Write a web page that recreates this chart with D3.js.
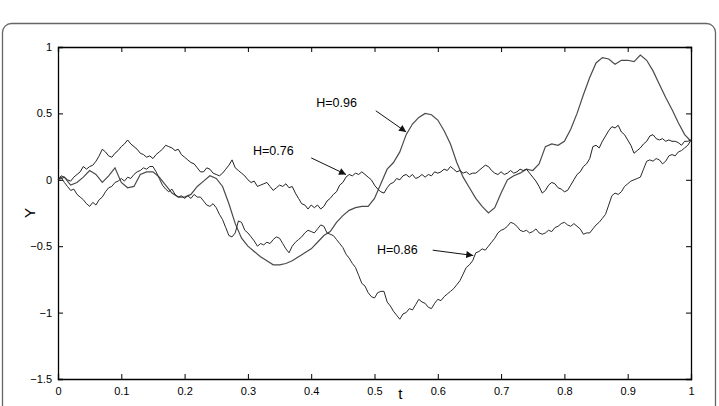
<!DOCTYPE html>
<html>
<head>
<meta charset="utf-8">
<title>fBm paths</title>
<script src="https://d3js.org/d3.v7.min.js"></script>
<style>
  body { margin: 0; background: #fff; }
  svg text { font-family: "Liberation Sans", Arial, Helvetica, sans-serif; }
</style>
</head>
<body>
<div id="chart"></div>
<script>
// sample spacing along t for each series
var stepSmooth = 0.01;   // H=0.96
var stepRough = 0.005;   // H=0.76, H=0.86

// H = 0.96, t = 0 .. 1 step 0.01
var h96 = [
  0.00, 0.02, -0.04, -0.02, 0.02, 0.07, 0.04, -0.02, 0.03, 0.09,
  -0.02, -0.06, -0.05, 0.04, 0.06, 0.06, 0.02, -0.04, -0.10, -0.13,
  -0.13, -0.11, -0.05, -0.01, 0.03, 0.01, -0.05, -0.18, -0.33, -0.44,
  -0.50, -0.54, -0.58, -0.61, -0.64, -0.64, -0.63, -0.61, -0.58, -0.55,
  -0.52, -0.47, -0.42, -0.39, -0.32, -0.27, -0.23, -0.21, -0.20, -0.20,
  -0.14, -0.03, 0.08, 0.13, 0.21, 0.34, 0.42, 0.47, 0.50, 0.49,
  0.45, 0.37, 0.27, 0.13, 0.02, -0.06, -0.14, -0.20, -0.25, -0.21,
  -0.10, 0.00, 0.03, 0.05, 0.08, 0.07, 0.12, 0.25, 0.27, 0.26,
  0.29, 0.38, 0.50, 0.64, 0.77, 0.88, 0.92, 0.91, 0.87, 0.90,
  0.90, 0.89, 0.94, 0.90, 0.82, 0.72, 0.62, 0.53, 0.43, 0.34,
  0.29
];

// H = 0.76, t = 0 .. 1 step 0.005
var h76 = [
  0.00, 0.03, 0.02, 0.00, -0.01, 0.02, 0.04, 0.06, 0.10, 0.08,
  0.10, 0.11, 0.14, 0.18, 0.23, 0.21, 0.18, 0.17, 0.20, 0.22,
  0.25, 0.27, 0.30, 0.27, 0.25, 0.23, 0.20, 0.19, 0.17, 0.18,
  0.16, 0.19, 0.21, 0.23, 0.26, 0.25, 0.24, 0.22, 0.23, 0.19,
  0.17, 0.15, 0.13, 0.12, 0.09, 0.06, 0.06, 0.09, 0.08, 0.05,
  0.04, 0.03, 0.05, 0.08, 0.11, 0.15, 0.09, 0.07, 0.05, 0.03,
  0.00, -0.02, -0.01, -0.05, -0.04, -0.03, -0.02, -0.05, -0.08, -0.06,
  -0.04, -0.05, -0.03, -0.06, -0.05, -0.10, -0.14, -0.18, -0.19, -0.22,
  -0.19, -0.21, -0.19, -0.22, -0.20, -0.16, -0.14, -0.11, -0.09, -0.04,
  -0.02, 0.02, 0.04, 0.03, 0.05, 0.04, 0.06, 0.04, 0.02, 0.00,
  -0.04, -0.07, -0.09, -0.10, -0.06, -0.03, -0.02, 0.01, 0.00, 0.03,
  0.04, 0.02, 0.04, 0.01, 0.02, 0.04, 0.02, 0.04, 0.03, 0.06,
  0.05, 0.06, 0.08, 0.07, 0.10, 0.08, 0.06, 0.07, 0.05, 0.06,
  0.04, 0.05, 0.05, 0.07, 0.09, 0.11, 0.10, 0.07, 0.05, 0.04,
  0.06, 0.04, 0.05, 0.07, 0.05, 0.06, 0.08, 0.07, 0.08, 0.05,
  0.02, -0.01, -0.05, -0.10, -0.08, -0.04, -0.02, -0.03, -0.06, -0.07,
  -0.09, -0.08, -0.04, 0.00, 0.04, 0.06, 0.10, 0.12, 0.16, 0.25,
  0.26, 0.24, 0.29, 0.33, 0.37, 0.40, 0.39, 0.41, 0.36, 0.34,
  0.30, 0.26, 0.20, 0.22, 0.24, 0.27, 0.29, 0.33, 0.34, 0.31,
  0.30, 0.31, 0.29, 0.30, 0.29, 0.29, 0.28, 0.26, 0.29, 0.29,
  0.30
];

// H = 0.86, t = 0 .. 1 step 0.005
var h86 = [
  0.00, 0.02, -0.02, -0.05, -0.08, -0.07, -0.11, -0.13, -0.15, -0.18,
  -0.20, -0.17, -0.19, -0.15, -0.13, -0.09, -0.06, -0.05, -0.02, -0.01,
  0.01, -0.01, 0.02, 0.01, 0.04, 0.06, 0.07, 0.09, 0.08, 0.10,
  0.10, 0.06, 0.01, -0.04, -0.07, -0.09, -0.07, -0.11, -0.13, -0.12,
  -0.14, -0.12, -0.14, -0.11, -0.13, -0.13, -0.16, -0.19, -0.20, -0.18,
  -0.21, -0.26, -0.30, -0.36, -0.42, -0.43, -0.40, -0.31, -0.32, -0.38,
  -0.40, -0.43, -0.46, -0.50, -0.48, -0.49, -0.47, -0.48, -0.45, -0.43,
  -0.44, -0.48, -0.52, -0.55, -0.50, -0.47, -0.45, -0.43, -0.40, -0.38,
  -0.39, -0.40, -0.37, -0.34, -0.35, -0.40, -0.41, -0.42, -0.45, -0.48,
  -0.51, -0.56, -0.59, -0.63, -0.66, -0.72, -0.78, -0.80, -0.85, -0.88,
  -0.89, -0.85, -0.84, -0.84, -0.92, -0.95, -0.99, -1.02, -1.05, -1.01,
  -1.00, -0.97, -0.98, -0.94, -0.90, -0.92, -0.93, -0.96, -0.97, -0.93,
  -0.90, -0.91, -0.88, -0.86, -0.84, -0.82, -0.79, -0.76, -0.71, -0.66,
  -0.64, -0.61, -0.55, -0.54, -0.52, -0.53, -0.50, -0.47, -0.44, -0.40,
  -0.38, -0.37, -0.35, -0.32, -0.33, -0.35, -0.38, -0.39, -0.38, -0.40,
  -0.39, -0.37, -0.40, -0.41, -0.40, -0.38, -0.39, -0.36, -0.35, -0.33,
  -0.32, -0.34, -0.35, -0.33, -0.35, -0.37, -0.41, -0.40, -0.40, -0.37,
  -0.34, -0.32, -0.29, -0.26, -0.19, -0.12, -0.10, -0.11, -0.09, -0.05,
  -0.03, -0.01, 0.00, 0.01, 0.02, 0.08, 0.14, 0.15, 0.14, 0.16,
  0.15, 0.12, 0.14, 0.18, 0.19, 0.18, 0.21, 0.22, 0.24, 0.26,
  0.30
];

var xTicks = [0, 0.1, 0.2, 0.3, 0.4, 0.5, 0.6, 0.7, 0.8, 0.9, 1];
var yTicks = [-1.5, -1, -0.5, 0, 0.5, 1];

// labels: text anchor point, arrow start, arrow tip (data units)
var labels = ["H=0.96", "H=0.76", "H=0.86"];
var labelPos = [[0.408, 0.55], [0.308, 0.19], [0.504, -0.56]];
var arrowFrom = [[0.502, 0.52], [0.400, 0.165], [0.592, -0.53]];
var arrowTo = [[0.550, 0.36], [0.455, 0.04], [0.656, -0.57]];

var W = 719, H = 406;
var margin = {top: 47, right: 28, bottom: 27, left: 58};
var width = W - margin.left - margin.right,
    height = H - margin.top - margin.bottom;

var svg = d3.select("#chart").append("svg")
    .attr("width", W)
    .attr("height", H);

// outer rounded frame
svg.append("rect")
    .attr("x", 2.5).attr("y", 23.5)
    .attr("width", 713).attr("height", 420)
    .attr("rx", 9).attr("ry", 9)
    .attr("fill", "none")
    .attr("stroke", "#666")
    .attr("stroke-width", 1.3);

var g = svg.append("g")
    .attr("transform", "translate(" + margin.left + "," + margin.top + ")");

var x = d3.scaleLinear().domain([0, 1]).range([0, width]);
var y = d3.scaleLinear().domain([-1.5, 1]).range([height, 0]);

var fmt = function(d) { return d3.format("")(d).replace("-", "\u2212"); };

// axes, ticks pointing inward (on all four sides)
g.append("g")
    .attr("transform", "translate(0," + height + ")")
    .call(d3.axisBottom(x).tickValues(xTicks).tickSize(-5).tickPadding(8).tickFormat(fmt));
g.append("g")
    .call(d3.axisTop(x).tickValues(xTicks).tickSize(-5).tickFormat(""));
g.append("g")
    .call(d3.axisLeft(y).tickValues(yTicks).tickSize(-5).tickPadding(6).tickFormat(fmt));
g.append("g")
    .attr("transform", "translate(" + width + ",0)")
    .call(d3.axisRight(y).tickValues(yTicks).tickSize(-5).tickFormat(""));

g.selectAll(".domain").attr("stroke", "#000").attr("stroke-width", 1.3);
g.selectAll(".tick line").attr("stroke", "#000");
g.selectAll(".tick text").attr("font-size", 11).attr("fill", "#000")
    .attr("font-family", "'Liberation Sans', Arial, sans-serif");

// axis titles
g.append("text")
    .attr("x", x(0.541)).attr("y", height + 20)
    .attr("text-anchor", "middle")
    .attr("font-size", 15)
    .text("t");
g.append("text")
    .attr("transform", "translate(-23," + y(-0.25) + ") rotate(-90)")
    .attr("text-anchor", "middle")
    .attr("font-size", 15)
    .text("Y");

// series
function line(step) {
  return d3.line()
    .x(function(d, i) { return x(i * step); })
    .y(function(d) { return y(d); });
}

g.append("path").datum(h96)
    .attr("d", line(stepSmooth))
    .attr("fill", "none").attr("stroke", "#4a4a4a").attr("stroke-width", 1.2);
g.append("path").datum(h76)
    .attr("d", line(stepRough))
    .attr("fill", "none").attr("stroke", "#222").attr("stroke-width", 1);
g.append("path").datum(h86)
    .attr("d", line(stepRough))
    .attr("fill", "none").attr("stroke", "#2a2a2a").attr("stroke-width", 1);

// annotations
svg.append("defs").append("marker")
    .attr("id", "arr")
    .attr("viewBox", "0 0 10 10")
    .attr("refX", 10).attr("refY", 5)
    .attr("markerWidth", 10).attr("markerHeight", 7)
    .attr("markerUnits", "userSpaceOnUse")
    .attr("orient", "auto")
  .append("path")
    .attr("d", "M0,0L10,5L0,10z")
    .attr("fill", "#111");

labels.forEach(function(s, i) {
  g.append("text")
      .attr("x", x(labelPos[i][0])).attr("y", y(labelPos[i][1]))
      .attr("font-size", 12.5)
      .text(s);
  g.append("line")
      .attr("x1", x(arrowFrom[i][0])).attr("y1", y(arrowFrom[i][1]))
      .attr("x2", x(arrowTo[i][0])).attr("y2", y(arrowTo[i][1]))
      .attr("stroke", "#111").attr("stroke-width", 1)
      .attr("marker-end", "url(#arr)");
});
</script>
</body>
</html>
